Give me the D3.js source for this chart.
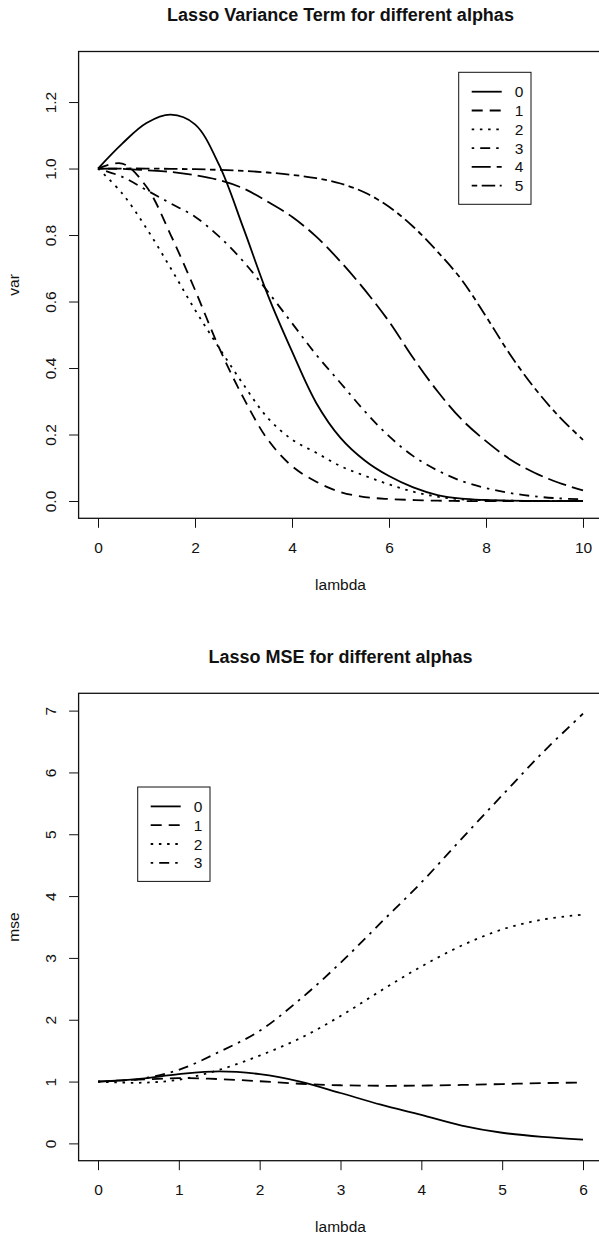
<!DOCTYPE html>
<html>
<head>
<meta charset="utf-8">
<script src="https://cdn.jsdelivr.net/npm/d3@7"></script>
<style>
  body { margin: 0; background: #fff; }
  svg { display: block; font-family: "Liberation Sans", Arial, sans-serif; }
</style>
</head>
<body>
<svg id="chart" width="599" height="1239"></svg>
<script>
// ---- Lasso Variance Term (top) ----
var lambdaVar = [0, 0.5, 1, 1.5, 2, 2.5, 3, 3.5, 4, 4.5, 5, 5.5, 6, 6.5, 7, 7.5, 8, 8.5, 9, 9.5, 10];
var var0 = [1.000, 1.075, 1.137, 1.162, 1.133, 1.010, 0.820, 0.620, 0.450, 0.295, 0.190, 0.122, 0.075, 0.041, 0.018, 0.007, 0.003, 0.001, 0, 0, 0];
var var1 = [1.000, 1.015, 0.945, 0.800, 0.635, 0.460, 0.310, 0.185, 0.105, 0.058, 0.027, 0.012, 0.006, 0.003, 0.001, 0, 0, 0, 0, 0, 0];
var var2 = [1.000, 0.925, 0.820, 0.700, 0.575, 0.460, 0.350, 0.250, 0.185, 0.145, 0.105, 0.076, 0.050, 0.028, 0.013, 0.005, 0.002, 0.001, 0, 0, 0];
var var3 = [1.000, 0.975, 0.935, 0.895, 0.855, 0.795, 0.720, 0.630, 0.535, 0.440, 0.355, 0.270, 0.195, 0.135, 0.092, 0.060, 0.039, 0.024, 0.014, 0.008, 0.005];
var var4 = [1.000, 0.999, 0.995, 0.990, 0.980, 0.965, 0.940, 0.900, 0.855, 0.795, 0.720, 0.635, 0.540, 0.430, 0.330, 0.245, 0.180, 0.125, 0.085, 0.055, 0.032];
var var5 = [1.000, 1.000, 1.000, 0.999, 0.998, 0.996, 0.993, 0.988, 0.981, 0.971, 0.955, 0.928, 0.885, 0.825, 0.750, 0.665, 0.555, 0.440, 0.340, 0.255, 0.184];
var varTicksX = [0, 2, 4, 6, 8, 10];
var varTicksY = [0, 0.2, 0.4, 0.6, 0.8, 1.0, 1.2];
var varAlphas = ['0', '1', '2', '3', '4', '5'];

// ---- Lasso MSE (bottom) ----
var lambdaMse = [0, 0.5, 1, 1.5, 2, 2.5, 3, 3.5, 4, 4.5, 5, 5.5, 6];
var mse0 = [1.000, 1.040, 1.120, 1.165, 1.120, 1.000, 0.815, 0.626, 0.460, 0.288, 0.172, 0.105, 0.062];
var mse1 = [1.000, 1.030, 1.055, 1.040, 1.005, 0.965, 0.940, 0.932, 0.935, 0.945, 0.960, 0.975, 0.985];
var mse2 = [1.000, 0.980, 1.030, 1.190, 1.420, 1.700, 2.060, 2.470, 2.860, 3.200, 3.460, 3.620, 3.700];
var mse3 = [1.000, 1.040, 1.190, 1.480, 1.820, 2.330, 2.920, 3.570, 4.220, 4.930, 5.630, 6.320, 6.950];
var mseTicksX = [0, 1, 2, 3, 4, 5, 6];
var mseTicksY = [0, 1, 2, 3, 4, 5, 6, 7];
var mseAlphas = ['0', '1', '2', '3'];

// R line types 1..6
var dashes = ['none', '11,7', '2.5,5.7', '2.5,6,10,6', '19,6', '5.5,4.5,13.5,4.5'];

var svg = d3.select('#chart');
var ink = '#111';

function drawPanel(p) {
  // R pads the data range by 4% on each side
  var xr = p.xlim[1] - p.xlim[0], yr = p.ylim[1] - p.ylim[0];
  var x = d3.scaleLinear()
    .domain([p.xlim[0] - 0.04 * xr, p.xlim[1] + 0.04 * xr])
    .range([78.6, 602.4]);
  var y = d3.scaleLinear()
    .domain([p.ylim[0] - 0.04 * yr, p.ylim[1] + 0.04 * yr])
    .range([p.bottom, p.top]);

  var g = svg.append('g');

  // title
  g.append('text')
    .attr('x', 340.5).attr('y', p.top - 30.8)
    .attr('text-anchor', 'middle')
    .attr('font-size', '18px').attr('font-weight', 'bold')
    .attr('fill', ink)
    .text(p.title);

  // axes
  var xAxis = g.append('g')
    .attr('transform', 'translate(0,' + p.bottom + ')')
    .call(d3.axisBottom(x).tickValues(p.xticks).tickSize(9.5).tickPadding(14).tickFormat(d3.format('d')));
  var yAxis = g.append('g')
    .attr('transform', 'translate(78.6,0)')
    .call(d3.axisLeft(y).tickValues(p.yticks).tickSize(9.5).tickFormat(p.yfmt));

  [xAxis, yAxis].forEach(function (a) {
    a.select('.domain').remove();
    a.selectAll('line').attr('stroke', ink).attr('stroke-width', 1);
    a.selectAll('text').attr('font-size', '15.5px').attr('fill', ink)
      .attr('font-family', '"Liberation Sans", Arial, sans-serif');
  });
  yAxis.selectAll('text')
    .attr('text-anchor', 'middle')
    .attr('transform', 'rotate(-90)')
    .attr('x', 0).attr('y', -22.7).attr('dy', 0);

  // box
  g.append('rect')
    .attr('x', x.range()[0]).attr('y', p.top)
    .attr('width', x.range()[1] - x.range()[0])
    .attr('height', p.bottom - p.top)
    .attr('fill', 'none').attr('stroke', ink).attr('stroke-width', 1.3);

  // axis titles
  g.append('text')
    .attr('x', 340.5).attr('y', p.bottom + 71.7)
    .attr('text-anchor', 'middle').attr('font-size', '15.5px').attr('fill', ink)
    .text('lambda');
  g.append('text')
    .attr('transform', 'translate(18.9,' + (p.top + p.bottom) / 2 + ') rotate(-90)')
    .attr('text-anchor', 'middle').attr('font-size', '15.5px').attr('fill', ink)
    .text(p.ylab);

  // curves
  var line = d3.line()
    .x(function (d) { return x(d[0]); })
    .y(function (d) { return y(d[1]); })
    .curve(d3.curveCatmullRom.alpha(0.5));

  p.series.forEach(function (s, i) {
    var pts = p.lambda.map(function (l, j) { return [l, s[j]]; });
    g.append('path')
      .datum(pts)
      .attr('d', line)
      .attr('fill', 'none')
      .attr('stroke', '#000')
      .attr('stroke-width', 1.8)
      .attr('stroke-dasharray', dashes[i]);
  });

  // legend
  var rowH = 18.8, pad = 19.4;
  var lg = g.append('g').attr('transform', 'translate(' + p.legend[0] + ',' + p.legend[1] + ')');
  lg.append('rect')
    .attr('width', 72.3)
    .attr('height', pad * 2 + (p.names.length - 1) * rowH - 0.8)
    .attr('fill', '#fff').attr('stroke', ink).attr('stroke-width', 1);
  p.names.forEach(function (n, i) {
    var cy = pad + i * rowH;
    lg.append('line')
      .attr('x1', 13).attr('x2', 43).attr('y1', cy).attr('y2', cy)
      .attr('stroke', '#000').attr('stroke-width', 1.8)
      .attr('stroke-dasharray', dashes[i]);
    lg.append('text')
      .attr('x', 56).attr('y', cy).attr('dy', '0.36em')
      .attr('font-size', '15.5px').attr('fill', ink)
      .text(n);
  });
}

drawPanel({
  title: 'Lasso Variance Term for different alphas',
  ylab: 'var',
  top: 51.5, bottom: 518.3,
  xlim: [0, 10], ylim: [0, 1.3],
  xticks: varTicksX, yticks: varTicksY,
  yfmt: d3.format('.1f'),
  lambda: lambdaVar,
  series: [var0, var1, var2, var3, var4, var5],
  names: varAlphas,
  legend: [458.7, 72.3]
});

drawPanel({
  title: 'Lasso MSE for different alphas',
  ylab: 'mse',
  top: 693.3, bottom: 1160.7,
  xlim: [0, 6], ylim: [0, 7],
  xticks: mseTicksX, yticks: mseTicksY,
  yfmt: d3.format('d'),
  lambda: lambdaMse,
  series: [mse0, mse1, mse2, mse3],
  names: mseAlphas,
  legend: [137.7, 787]
});
</script>
</body>
</html>
